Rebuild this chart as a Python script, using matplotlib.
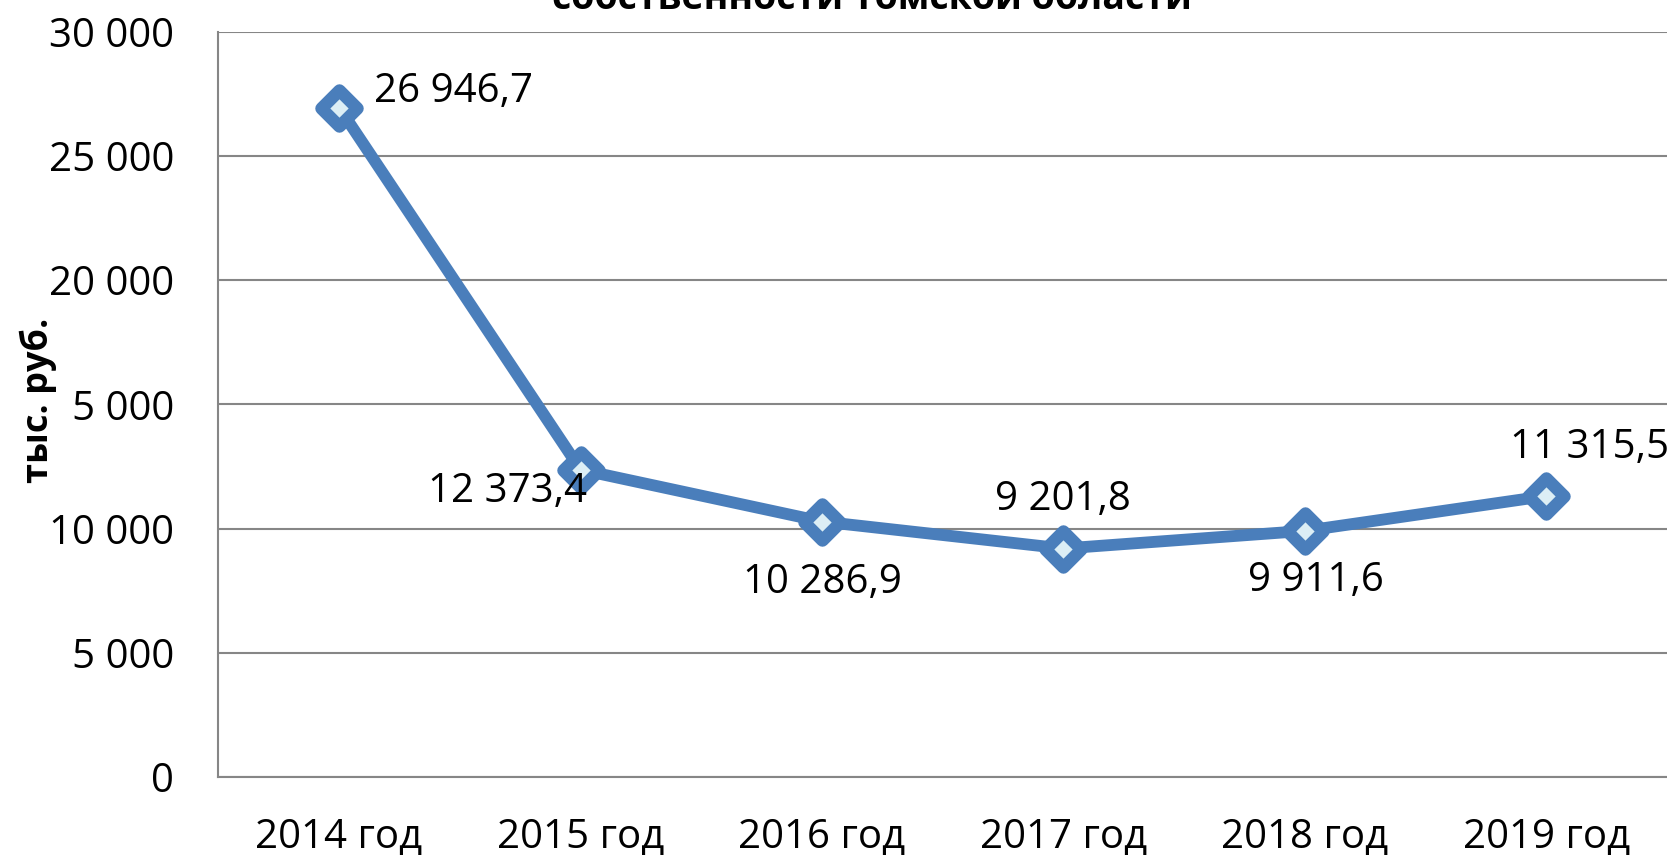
import matplotlib.pyplot as plt
from matplotlib.markers import MarkerStyle
import numpy as np

plt.rcParams['font.family'] = ['Open Sans', 'DejaVu Sans']

years = ['2014 год', '2015 год', '2016 год', '2017 год', '2018 год', '2019 год']
values = [26946.7, 12373.4, 10286.9, 9201.8, 9911.6, 11315.5]
value_labels = ['26 946,7', '12 373,4', '10 286,9', '9 201,8', '9 911,6', '11 315,5']
yticks = [0, 5000, 10000, 15000, 20000, 25000, 30000]
ytick_labels = ['0', '5 000', '10 000', '15 000', '20 000', '25 000', '30 000']

# label offsets (points) and alignment for each data label
offsets = [(25, 11), (5, -16), (0, -44), (0, 35), (8, -36), (31, 35)]
aligns = ['left', 'right', 'center', 'center', 'center', 'center']

fig = plt.figure(figsize=(16.67, 8.55), dpi=100)
ax = fig.add_axes([0.131, 0.091, 0.869, 0.872])

x = np.arange(len(years))
ax.plot(x, values, color='#4A7EBB', lw=8.5, solid_joinstyle='round', solid_capstyle='round',
        marker=MarkerStyle('D', joinstyle='round'), markersize=18, markeredgewidth=9,
        markeredgecolor='#4A7EBB', markerfacecolor='#DCEEF5', zorder=3)

for i in range(len(values)):
    ax.annotate(value_labels[i], (x[i], values[i]), xytext=offsets[i],
                textcoords='offset points', ha=aligns[i], va='center',
                fontsize=29, color='black', zorder=4)

ax.set_xlim(-0.5, len(years) - 0.5)
ax.set_ylim(0, 30000)
ax.set_yticks(yticks)
ax.set_yticklabels(ytick_labels, fontsize=29)
ax.set_xticks(x)
ax.set_xticklabels(years, fontsize=29)
ax.tick_params(axis='y', length=0, pad=32)
ax.tick_params(axis='x', length=0, pad=29)

ax.grid(axis='y', color='#868686', lw=1.5)
ax.set_axisbelow(True)
for s in ['top', 'right']:
    ax.spines[s].set_visible(False)
for s in ['left', 'bottom']:
    ax.spines[s].set_color('#868686')
    ax.spines[s].set_linewidth(1.5)

# axis title drawn over the tick labels like in the original
fig.text(0.023, 0.532, 'тыс. руб.', rotation=90, ha='center', va='center',
         fontsize=26, fontweight='bold',
         bbox=dict(facecolor='white', edgecolor='none', pad=7))

# chart title, only its last line fits inside the picture
fig.text(0.523, 0.989, 'собственности Томской области', ha='center', va='baseline',
         fontsize=27, fontweight='bold')

fig.savefig('out.png', dpi=100)
